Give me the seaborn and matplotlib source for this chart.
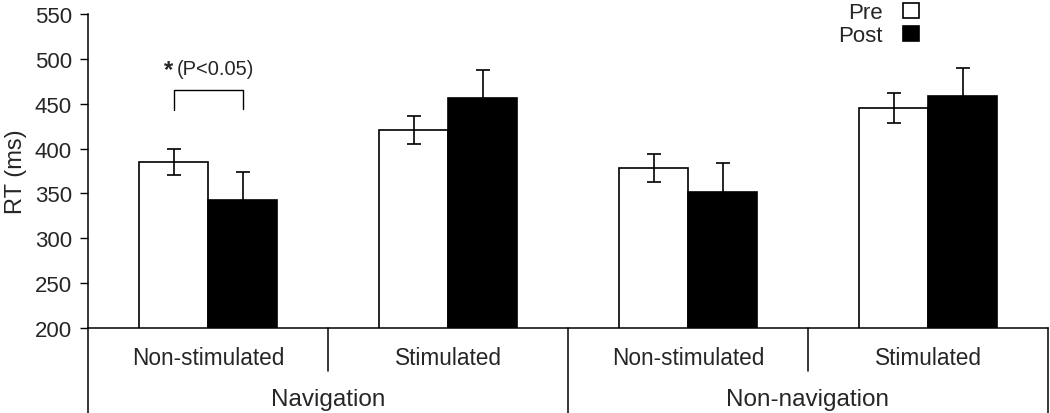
import numpy as np
import pandas as pd
import matplotlib
matplotlib.use("Agg")
import matplotlib.pyplot as plt
import matplotlib.transforms as mtransforms
import seaborn as sns

# ---- data ----
groups = ["Navigation", "Non-navigation"]
stim_labels = ["Non-stimulated", "Stimulated"]
sessions = ["Pre", "Post"]
pre_rt = [385, 421, 378, 445]
post_rt = [343, 456, 352, 459]
pre_err = [15, 15.5, 15.5, 16.5]
post_err = [31, 32, 32, 31]
yticks = [200, 250, 300, 350, 400, 450, 500, 550]

conditions = [f"{g}|{s}" for g in groups for s in stim_labels]
df = pd.DataFrame({
    "condition": conditions * 2,
    "session": [sessions[0]] * 4 + [sessions[1]] * 4,
    "rt": pre_rt + post_rt,
})

sns.set_theme(style="white")
plt.rcParams["font.family"] = ["Liberation Sans", "DejaVu Sans"]

fig = plt.figure(figsize=(10.5, 4.14), dpi=100)
ax = fig.add_axes([88 / 1050, 1 - 329 / 414, 960 / 1050, 314 / 414])

sns.barplot(data=df, x="condition", y="rt", hue="session", order=conditions,
            hue_order=sessions, palette=["white", "black"], edgecolor="black",
            linewidth=1.2, width=0.575, errorbar=None, ax=ax)

# error bars at the bars' own positions
for cont, errs in zip(ax.containers, [pre_err, post_err]):
    xs = [b.get_x() + b.get_width() / 2 for b in cont]
    ys = [b.get_height() for b in cont]
    ax.errorbar(xs, ys, yerr=errs, fmt="none", ecolor="black", elinewidth=1.2,
                capsize=4.7, capthick=1.2, zorder=5)

ax.set_ylim(200, 550)
ax.set_xlim(-0.5, 3.5)
ax.set_yticks(yticks)
ax.set_yticklabels([str(t) for t in yticks])
ax.set_xticks(range(4))
ax.set_xticklabels(stim_labels * 2)
ax.tick_params(axis="y", direction="out", length=6, width=1, pad=5.5,
               labelsize=16, color="black", left=True)
ax.tick_params(axis="x", length=0, pad=13, labelsize=16.3)
ax.set_xlabel("")
ax.set_ylabel("RT (ms)", fontsize=17)
ax.yaxis.set_label_coords(-0.064, 0.5)

for sp in ["top", "right"]:
    ax.spines[sp].set_visible(False)
for sp in ["left", "bottom"]:
    ax.spines[sp].set_color("black")
    ax.spines[sp].set_linewidth(1.1)

# category / group divider lines below the axis
trans = mtransforms.blended_transform_factory(ax.transData, ax.transAxes)
bottom = -85 / 314
short = -43 / 314
for x, yb in [(-0.5, bottom), (0.5, short), (1.5, bottom), (2.5, short), (3.5, bottom)]:
    ax.plot([x, x], [0, yb], color="black", lw=1.1, transform=trans, clip_on=False)

for i, g in enumerate(groups):
    ax.text(2 * i + 0.5, -71 / 314, g, transform=trans, ha="center", va="center",
            fontsize=17.5)

# significance bracket
xl = ax.containers[0][0].get_x() + ax.containers[0][0].get_width() / 2
xr = ax.containers[1][0].get_x() + ax.containers[1][0].get_width() / 2
ax.plot([xl, xl, xr, xr], [443, 465, 465, 444], color="black", lw=1.0)
ax.text(-0.165, 488, "*", ha="center", va="center", fontsize=17, fontweight="bold")
ax.text(-0.13, 489, "(P<0.05)", ha="left", va="center", fontsize=14.5)

# legend: labels first, boxes on the right
handles, labels = ax.get_legend_handles_labels()
ax.legend(handles, labels, loc="upper right", bbox_to_anchor=(919 / 1050, 1 - 3 / 414),
          bbox_transform=fig.transFigure, frameon=False, markerfirst=False,
          fontsize=16, handlelength=0.72, handleheight=0.65, handletextpad=0.9,
          labelspacing=0.1, borderpad=0.0, borderaxespad=0.0)

fig.savefig("out.png", dpi=100)
